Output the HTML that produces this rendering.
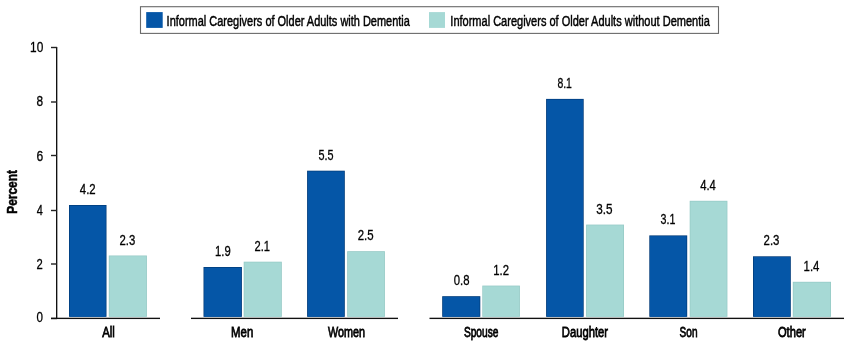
<!DOCTYPE html>
<html><head><meta charset="utf-8"><style>
html,body{margin:0;padding:0;background:#fff;}
svg{display:block;}
.tx{opacity:0.999;}
text{font-family:"Liberation Sans",sans-serif;fill:#000;stroke:#000;}
.v{stroke-width:0.32px;}
.c{stroke-width:0.8px;}
.l{stroke-width:0.5px;}
.p{stroke-width:0.5px;}
</style></head><body>
<svg width="850" height="347" viewBox="0 0 850 347">
<rect x="69.0" y="205.0" width="37.50" height="111.80" fill="#013a78"/>
<rect x="69.70" y="205.70" width="36.10" height="111.10" fill="#0556a7"/>
<rect x="108.8" y="255.5" width="38.10" height="61.30" fill="#95c9c5"/>
<rect x="109.50" y="256.20" width="36.70" height="60.60" fill="#a6d9d5"/>
<rect x="203.5" y="267.0" width="38.40" height="49.80" fill="#013a78"/>
<rect x="204.20" y="267.70" width="37.00" height="49.10" fill="#0556a7"/>
<rect x="243.7" y="261.7" width="38.10" height="55.10" fill="#95c9c5"/>
<rect x="244.40" y="262.40" width="36.70" height="54.40" fill="#a6d9d5"/>
<rect x="307.1" y="170.7" width="37.70" height="146.10" fill="#013a78"/>
<rect x="307.80" y="171.40" width="36.30" height="145.40" fill="#0556a7"/>
<rect x="347.2" y="251.2" width="37.70" height="65.60" fill="#95c9c5"/>
<rect x="347.90" y="251.90" width="36.30" height="64.90" fill="#a6d9d5"/>
<rect x="442.2" y="296.2" width="38.10" height="20.60" fill="#013a78"/>
<rect x="442.90" y="296.90" width="36.70" height="19.90" fill="#0556a7"/>
<rect x="482.3" y="285.6" width="37.60" height="31.20" fill="#95c9c5"/>
<rect x="483.00" y="286.30" width="36.20" height="30.50" fill="#a6d9d5"/>
<rect x="546.1" y="98.9" width="37.60" height="217.90" fill="#013a78"/>
<rect x="546.80" y="99.60" width="36.20" height="217.20" fill="#0556a7"/>
<rect x="586.1" y="224.6" width="37.90" height="92.20" fill="#95c9c5"/>
<rect x="586.80" y="225.30" width="36.50" height="91.50" fill="#a6d9d5"/>
<rect x="649.3" y="235.4" width="37.90" height="81.40" fill="#013a78"/>
<rect x="650.00" y="236.10" width="36.50" height="80.70" fill="#0556a7"/>
<rect x="689.7" y="200.8" width="37.70" height="116.00" fill="#95c9c5"/>
<rect x="690.40" y="201.50" width="36.30" height="115.30" fill="#a6d9d5"/>
<rect x="753.0" y="256.3" width="37.80" height="60.50" fill="#013a78"/>
<rect x="753.70" y="257.00" width="36.40" height="59.80" fill="#0556a7"/>
<rect x="792.8" y="281.8" width="38.20" height="35.00" fill="#95c9c5"/>
<rect x="793.50" y="282.50" width="36.80" height="34.30" fill="#a6d9d5"/>
<rect x="56" y="47" width="1.35" height="272" fill="#111"/>
<rect x="51" y="46.80" width="6" height="1.4" fill="#222"/>
<rect x="51" y="101.30" width="6" height="1.4" fill="#222"/>
<rect x="51" y="154.80" width="6" height="1.4" fill="#222"/>
<rect x="51" y="209.80" width="6" height="1.4" fill="#222"/>
<rect x="51" y="263.30" width="6" height="1.4" fill="#222"/>
<rect x="51" y="317.80" width="6" height="1.4" fill="#222"/>
<rect x="51" y="317.7" width="109" height="1.35" fill="#111"/>
<rect x="191" y="317.7" width="207" height="1.35" fill="#111"/>
<rect x="429.5" y="317.7" width="414.5" height="1.35" fill="#111"/>
<rect x="140.5" y="6.7" width="578" height="26.7" fill="none" stroke="#6a6a6a" stroke-width="1.1"/>
<rect x="146.2" y="12.1" width="16.5" height="15.8" fill="#0556a7"/>
<rect x="429" y="12.1" width="16" height="15.8" fill="#a6d9d5"/>
<g class="tx">
<text class="v" font-size="14.6" transform="translate(79.79,194.43) scale(0.7820,1)">4.2</text>
<text class="v" font-size="14.6" transform="translate(119.55,244.53) scale(0.7783,1)">2.3</text>
<text class="v" font-size="14.6" transform="translate(215.01,255.78) scale(0.7705,1)">1.9</text>
<text class="v" font-size="14.6" transform="translate(254.45,250.73) scale(0.7634,1)">2.1</text>
<text class="v" font-size="14.6" transform="translate(318.38,159.68) scale(0.7416,1)">5.5</text>
<text class="v" font-size="14.6" transform="translate(357.74,239.98) scale(0.7835,1)">2.5</text>
<text class="v" font-size="14.6" transform="translate(453.76,285.08) scale(0.7776,1)">0.8</text>
<text class="v" font-size="14.6" transform="translate(493.31,274.73) scale(0.7759,1)">1.2</text>
<text class="v" font-size="14.6" transform="translate(557.39,87.73) scale(0.7161,1)">8.1</text>
<text class="v" font-size="14.6" transform="translate(596.25,213.53) scale(0.8034,1)">3.5</text>
<text class="v" font-size="14.6" transform="translate(660.58,224.08) scale(0.7316,1)">3.1</text>
<text class="v" font-size="14.6" transform="translate(700.19,189.73) scale(0.7705,1)">4.4</text>
<text class="v" font-size="14.6" transform="translate(763.54,245.43) scale(0.7835,1)">2.3</text>
<text class="v" font-size="14.6" transform="translate(803.60,271.43) scale(0.7798,1)">1.4</text>
<text class="v" font-size="14.6" transform="translate(30.07,52.01) scale(0.8138,1)">10</text>
<text class="v" font-size="14.6" transform="translate(36.54,105.91) scale(0.8107,1)">8</text>
<text class="v" font-size="14.6" transform="translate(36.42,160.61) scale(0.8276,1)">6</text>
<text class="v" font-size="14.6" transform="translate(36.79,214.60) scale(0.7495,1)">4</text>
<text class="v" font-size="14.6" transform="translate(36.45,268.75) scale(0.7705,1)">2</text>
<text class="v" font-size="14.6" transform="translate(36.55,322.41) scale(0.7945,1)">0</text>
<text class="c" font-size="15.0" transform="translate(102.24,336.75) scale(0.7576,1)">All</text>
<text class="c" font-size="15.0" transform="translate(231.12,336.75) scale(0.7604,1)">Men</text>
<text class="c" font-size="15.0" transform="translate(328.12,336.75) scale(0.7193,1)">Women</text>
<text class="c" font-size="15.0" transform="translate(463.90,336.75) scale(0.6786,1)">Spouse</text>
<text class="c" font-size="15.0" transform="translate(561.83,336.75) scale(0.7488,1)">Daughter</text>
<text class="c" font-size="15.0" transform="translate(679.60,336.75) scale(0.6705,1)">Son</text>
<text class="c" font-size="15.0" transform="translate(777.98,336.75) scale(0.7416,1)">Other</text>
<text class="p" font-size="15.20" font-weight="bold" transform="translate(17,213.70) rotate(-90) scale(0.7833,1)">Percent</text>
<text class="l" font-size="14.9" transform="translate(166.62,25.60) scale(0.7367,1)">Informal Caregivers of Older Adults with Dementia</text>
<text class="l" font-size="14.9" transform="translate(450.32,25.70) scale(0.7397,1)">Informal Caregivers of Older Adults without Dementia</text>
</g>
</svg>
</body></html>
